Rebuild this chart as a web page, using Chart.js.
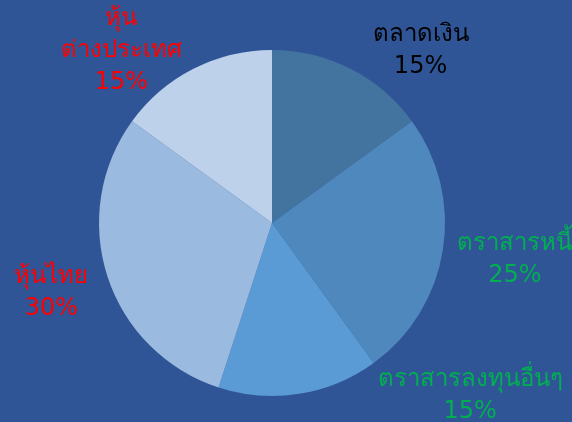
<!DOCTYPE html>
<html>
<head>
<meta charset="utf-8">
<script src="https://cdn.jsdelivr.net/npm/chart.js@4.4.0/dist/chart.umd.min.js"></script>
<style>
  html, body { margin: 0; padding: 0; background: #2F5597; }
  #wrap { width: 572px; height: 422px; }
</style>
</head>
<body>
<div id="wrap"><canvas id="pie"></canvas></div>
<script>
// asset allocation (percent)
const categories = [['ตลาดเงิน'], ['ตราสารหนี้'], ['ตราสารลงทุนอื่นๆ'], ['หุ้นไทย'], ['หุ้น', 'ต่างประเทศ']];
const shares = [15, 25, 15, 30, 15];
const sliceColors = ['#43739F', '#4F88BC', '#5B9BD5', '#9ABADF', '#BDD1EA'];
const labelColors = ['#000000', '#00B050', '#00B050', '#FF0000', '#FF0000'];

// where each label block sits, relative to the slice's outer edge at mid angle
const labelShift = [[70, -18], [72, 10], [171, 2], [-56, 16], [-72, -18]];

const outsideLabels = {
  id: 'outsideLabels',
  afterDatasetsDraw(chart) {
    const ctx = chart.ctx;
    const meta = chart.getDatasetMeta(0);
    ctx.save();
    ctx.font = '24px Tahoma, "DejaVu Sans", sans-serif';
    ctx.textAlign = 'center';
    ctx.textBaseline = 'middle';
    meta.data.forEach((arc, i) => {
      const p = arc.getProps(['x', 'y', 'startAngle', 'endAngle', 'outerRadius'], true);
      const mid = (p.startAngle + p.endAngle) / 2;
      const ex = p.x + Math.cos(mid) * p.outerRadius + labelShift[i][0];
      const ey = p.y + Math.sin(mid) * p.outerRadius + labelShift[i][1];
      const lines = categories[i].concat([shares[i] + '%']);
      const lh = 32;
      const top = ey - (lines.length - 1) * lh / 2;
      ctx.fillStyle = labelColors[i];
      lines.forEach((t, k) => ctx.fillText(t, ex, top + k * lh));
    });
    ctx.restore();
  }
};

new Chart(document.getElementById('pie'), {
  type: 'pie',
  data: {
    labels: categories.map(c => c.join('')),
    datasets: [{
      data: shares,
      backgroundColor: sliceColors,
      borderWidth: 0
    }]
  },
  options: {
    responsive: true,
    maintainAspectRatio: false,
    animation: false,
    layout: { padding: { left: 99, right: 127, top: 50, bottom: 26 } },
    plugins: {
      legend: { display: false },
      tooltip: { enabled: false }
    }
  },
  plugins: [outsideLabels]
});
</script>
</body>
</html>
